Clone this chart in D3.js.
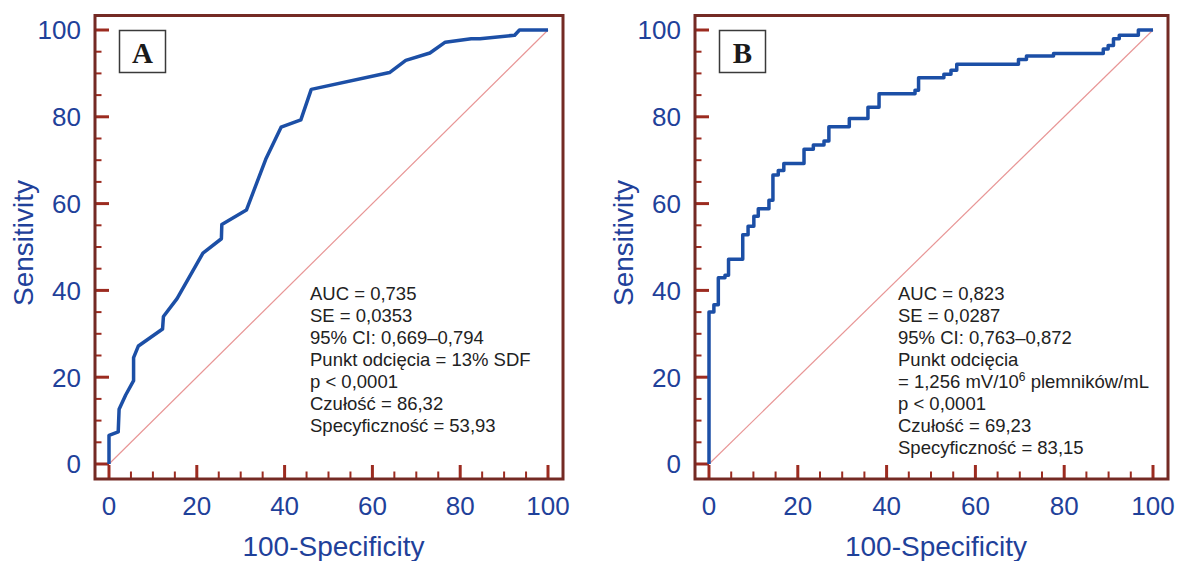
<!DOCTYPE html>
<html>
<head>
<meta charset="utf-8">
<script src="https://cdn.jsdelivr.net/npm/d3@7"></script>
<style>
  body { margin: 0; background: #fff; }
  svg { display: block; }
</style>
</head>
<body>
<div id="chart"></div>
<script>

// ROC A - polyline points (100-specificity, sensitivity)
var rocA_x = [0, 0, 2.1, 2.3, 3.8, 5.6, 5.6, 6.7, 12.2, 12.4, 15.5, 21.4, 25.6, 25.7, 31.3, 35.7, 39.2, 43.7, 46.07, 63.9, 67.6, 73.1, 76.6, 82.5, 84.5, 92.4, 93.5, 100];
var rocA_y = [0, 6.6, 7.4, 12.6, 15.9, 19.2, 24.5, 27.2, 31.1, 34.0, 38.1, 48.6, 51.9, 55.2, 58.5, 70.2, 77.6, 79.3, 86.32, 90.2, 93.0, 94.7, 97.2, 98.0, 98.0, 98.8, 100, 100];

// ROC B - step points (x where the curve rises, sensitivity after the rise)
var rocB_x = [0, 0, 1.1, 2.1, 3.6, 4.4, 7.6, 8.8, 10.1, 11.1, 13.5, 14.4, 15.6, 16.85, 21.4, 23.5, 25.9, 27.0, 31.6, 35.8, 38.3, 46.4, 47.2, 52.9, 54.5, 55.8, 69.7, 71.5, 77.6, 88.8, 89.9, 91.1, 92.4, 96.7, 100];
var rocB_y = [0, 35.0, 36.7, 42.9, 43.5, 47.2, 52.8, 54.8, 57.1, 58.8, 60.8, 66.6, 67.6, 69.23, 72.5, 73.5, 74.4, 77.7, 79.6, 82.2, 85.3, 86.1, 89.0, 89.8, 90.7, 92.1, 93.2, 94.0, 94.6, 95.6, 96.4, 98.0, 98.8, 100, 100];

var majorTicks = [0, 20, 40, 60, 80, 100];
var minorTicks = d3.range(0, 101, 5);

var statsA = ["AUC = 0,735", "SE = 0,0353", "95% CI: 0,669\u20130,794", "Punkt odci\u0119cia = 13% SDF",
              "p < 0,0001", "Czu\u0142o\u015b\u0107 = 86,32", "Specyficzno\u015b\u0107 = 53,93"];
var statsB = ["AUC = 0,823", "SE = 0,0287", "95% CI: 0,763\u20130,872", "Punkt odci\u0119cia",
              "= 1,256 mV/10^6 plemnik\u00f3w/mL", "p < 0,0001", "Czu\u0142o\u015b\u0107 = 69,23", "Specyficzno\u015b\u0107 = 83,15"];

var W = 1177, H = 561;

var colFrame = "#742a24",
    colTick  = "#9c2b20",
    colBlue  = "#1f419a",
    colCurve = "#1c4fa6",
    colDiag  = "#e89696";

var svg = d3.select("#chart").append("svg")
  .attr("width", W)
  .attr("height", H);

function panel(cfg) {

  var g = svg.append("g");

  var x = d3.scaleLinear().domain([0, 100]).range([cfg.left + 14, cfg.right - 15]);
  var y = d3.scaleLinear().domain([0, 100]).range([cfg.bottom - 15, cfg.top + 14.5]);

  // diagonal reference
  g.append("line")
    .attr("x1", x(0)).attr("y1", y(0))
    .attr("x2", x(100)).attr("y2", y(100))
    .attr("stroke", colDiag)
    .attr("stroke-width", 1.2);

  // y ticks
  g.selectAll(".ytick").data(minorTicks).enter().append("line")
    .attr("x1", cfg.left)
    .attr("x2", function(d) { return d % 20 === 0 ? x(0) : cfg.left + 6.5; })
    .attr("y1", function(d) { return y(d); })
    .attr("y2", function(d) { return y(d); })
    .attr("stroke", colTick)
    .attr("stroke-width", function(d) { return d % 20 === 0 ? 3 : 2; });

  // x ticks
  g.selectAll(".xtick").data(minorTicks).enter().append("line")
    .attr("x1", function(d) { return x(d); })
    .attr("x2", function(d) { return x(d); })
    .attr("y1", cfg.bottom)
    .attr("y2", function(d) { return d % 20 === 0 ? cfg.bottom - 14 : cfg.bottom - 7.5; })
    .attr("stroke", colTick)
    .attr("stroke-width", function(d) { return d % 20 === 0 ? 3 : 2; });

  // tick labels
  g.selectAll(".ylab").data(majorTicks).enter().append("text")
    .attr("x", cfg.left - 14)
    .attr("y", function(d) { return y(d) + 9.4; })
    .attr("text-anchor", "end")
    .attr("font-family", "Liberation Sans, Arial, sans-serif")
    .attr("font-size", 26)
    .attr("fill", colBlue)
    .text(function(d) { return d; });

  g.selectAll(".xlab").data(majorTicks).enter().append("text")
    .attr("x", function(d) { return x(d); })
    .attr("y", cfg.bottom + 36)
    .attr("text-anchor", "middle")
    .attr("font-family", "Liberation Sans, Arial, sans-serif")
    .attr("font-size", 26)
    .attr("fill", colBlue)
    .text(function(d) { return d; });

  // axis titles
  g.append("text")
    .attr("x", (x(0) + x(100)) / 2 + 5)
    .attr("y", 556)
    .attr("text-anchor", "middle")
    .attr("font-family", "Liberation Sans, Arial, sans-serif")
    .attr("font-size", 28)
    .attr("fill", colBlue)
    .text("100-Specificity");

  g.append("text")
    .attr("transform", "translate(" + (cfg.left - 62) + "," + 243 + ") rotate(-90)")
    .attr("text-anchor", "middle")
    .attr("font-family", "Liberation Sans, Arial, sans-serif")
    .attr("font-size", 28)
    .attr("fill", colBlue)
    .text("Sensitivity");

  // curve
  var pts = cfg.xs.map(function(v, i) { return [v, cfg.ys[i]]; });
  var line = d3.line()
    .x(function(d) { return x(d[0]); })
    .y(function(d) { return y(d[1]); })
    .curve(cfg.step ? d3.curveStepAfter : d3.curveLinear);

  g.append("path")
    .datum(pts)
    .attr("d", line)
    .attr("fill", "none")
    .attr("stroke", colCurve)
    .attr("stroke-width", 3.5)
    .attr("stroke-linejoin", "round");

  // frame
  g.append("rect")
    .attr("x", cfg.left).attr("y", cfg.top)
    .attr("width", cfg.right - cfg.left)
    .attr("height", cfg.bottom - cfg.top)
    .attr("fill", "none")
    .attr("stroke", colFrame)
    .attr("stroke-width", 3);

  // panel letter box
  g.append("rect")
    .attr("x", cfg.left + 24.5).attr("y", 30.5)
    .attr("width", 46).attr("height", 42)
    .attr("fill", "#fff")
    .attr("stroke", "#3a3a3a")
    .attr("stroke-width", 1.5);

  g.append("text")
    .attr("x", cfg.left + 47.5)
    .attr("y", 63)
    .attr("text-anchor", "middle")
    .attr("font-family", "Liberation Serif, Times New Roman, serif")
    .attr("font-weight", "bold")
    .attr("font-size", 29)
    .attr("fill", "#1a1a1a")
    .text(cfg.letter);

  // stats
  var st = g.append("g")
    .attr("font-family", "Liberation Sans, Arial, sans-serif")
    .attr("font-size", 18.5)
    .attr("fill", "#222");

  cfg.stats.forEach(function(s, i) {
    var t = st.append("text")
      .attr("x", cfg.textX)
      .attr("y", 300 + i * 22);
    var parts = s.split("^");
    if (parts.length > 1) {
      t.append("tspan").text(parts[0]);
      t.append("tspan").attr("dy", -7).attr("font-size", 12).text(parts[1].charAt(0));
      t.append("tspan").attr("dy", 7).text(parts[1].slice(1));
    } else {
      t.text(s);
    }
  });
}

panel({left: 95,  right: 563,  top: 15.5, bottom: 479, xs: rocA_x, ys: rocA_y, step: false, letter: "A", stats: statsA, textX: 310});
panel({left: 695, right: 1168, top: 15.5, bottom: 479, xs: rocB_x, ys: rocB_y, step: true,  letter: "B", stats: statsB, textX: 898});

</script>
</body>
</html>
